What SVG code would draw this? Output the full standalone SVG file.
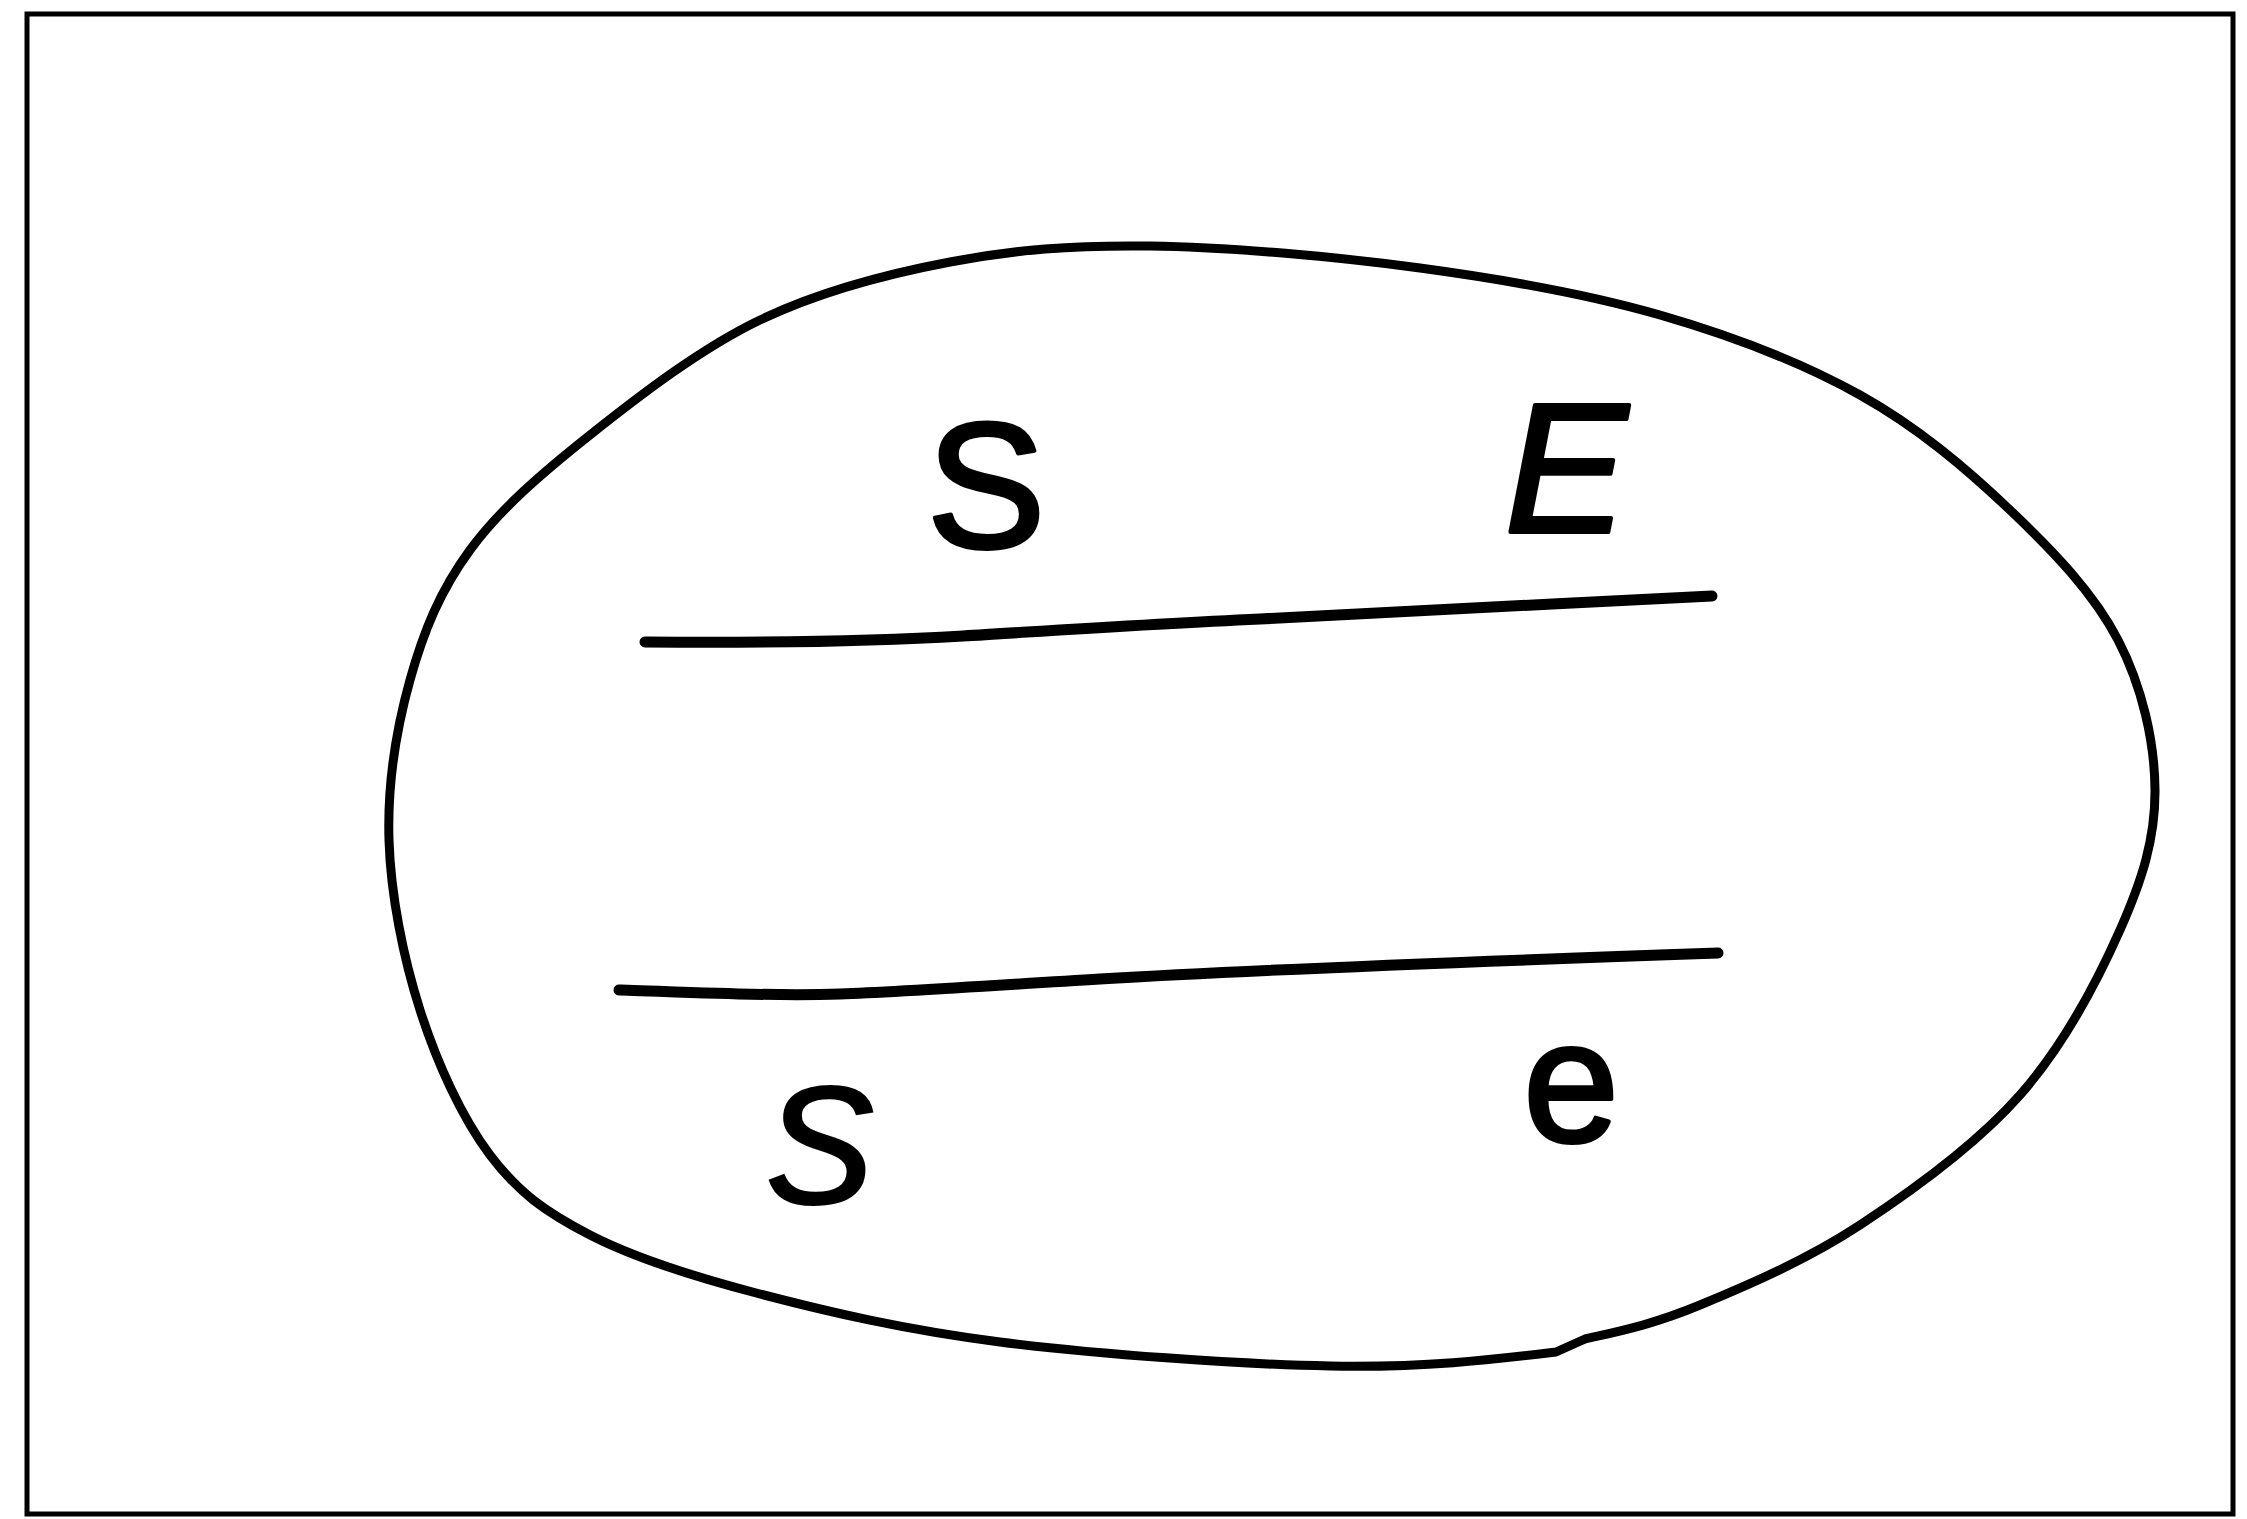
<svg xmlns="http://www.w3.org/2000/svg" width="2247" height="1519" viewBox="0 0 2247 1519">
<style>
.ink{fill:none;stroke:#000;stroke-linecap:round;stroke-linejoin:round}
.lbl{font-family:"Liberation Sans",Arial,sans-serif;fill:#000;text-anchor:middle}
.thick{stroke:#000;stroke-width:4;stroke-linejoin:round}
</style>
<rect width="2247" height="1519" fill="#fff"/>
<g id="frame">
<rect x="27" y="14" width="2206" height="1500" fill="none" stroke="#000" stroke-width="5"/>
</g>
<g id="ellipse">
<path class="ink" stroke-width="9" d="M1150,246 C1228.3,247 1335,256.5 1420,268 S1586.7,293.8 1660,315 S1801.7,362.5 1860,395 S1967,469.2 2010,510 S2093.8,593.3 2118,640 S2154.7,741.7 2155,790 S2142.5,879.2 2120,930 S2063.3,1045.8 2020,1095 S1913.3,1190 1860,1225 S1748.3,1285 1700,1305 C1651.7,1325 1620,1331 1585,1339 L1556,1352 C1490,1360 1422.5,1367.7 1330,1366 S1095,1354 1000,1342 S828.3,1311.8 760,1294 S635,1258.2 590,1235 S518.3,1192.5 490,1155 S436.8,1062.5 420,1010 S390.7,895 389,840 S396.5,728.3 410,680 S440,590.8 470,550 S541.7,473.3 590,435 S700,348.8 760,320 S885,274.3 950,262 S1071.7,245 1150,246 Z"/>
</g>
<g id="lines">
<path id="upper-line" class="ink" stroke-width="11" d="M645,642 C760,643 880,641 963,636 S1150,624 1260,619 S1560,603 1712,596"/>
<path id="lower-line" class="ink" stroke-width="11" d="M619,990 C700,993 780,996 840,994 S1000,985 1100,979 S1400,964 1718,953"/>
</g>
<g id="labels">
<text id="label-S" class="lbl thick" x="986" y="547" font-size="178">S</text>
<text id="label-E" class="lbl thick" x="1566" y="532" font-size="184" font-style="italic">E</text>
<text id="label-s" class="lbl" x="823" y="1204" font-size="220" font-style="italic">s</text>
<text id="label-e" class="lbl thick" x="1571" y="1141" font-size="172">e</text>
</g>
</svg>
